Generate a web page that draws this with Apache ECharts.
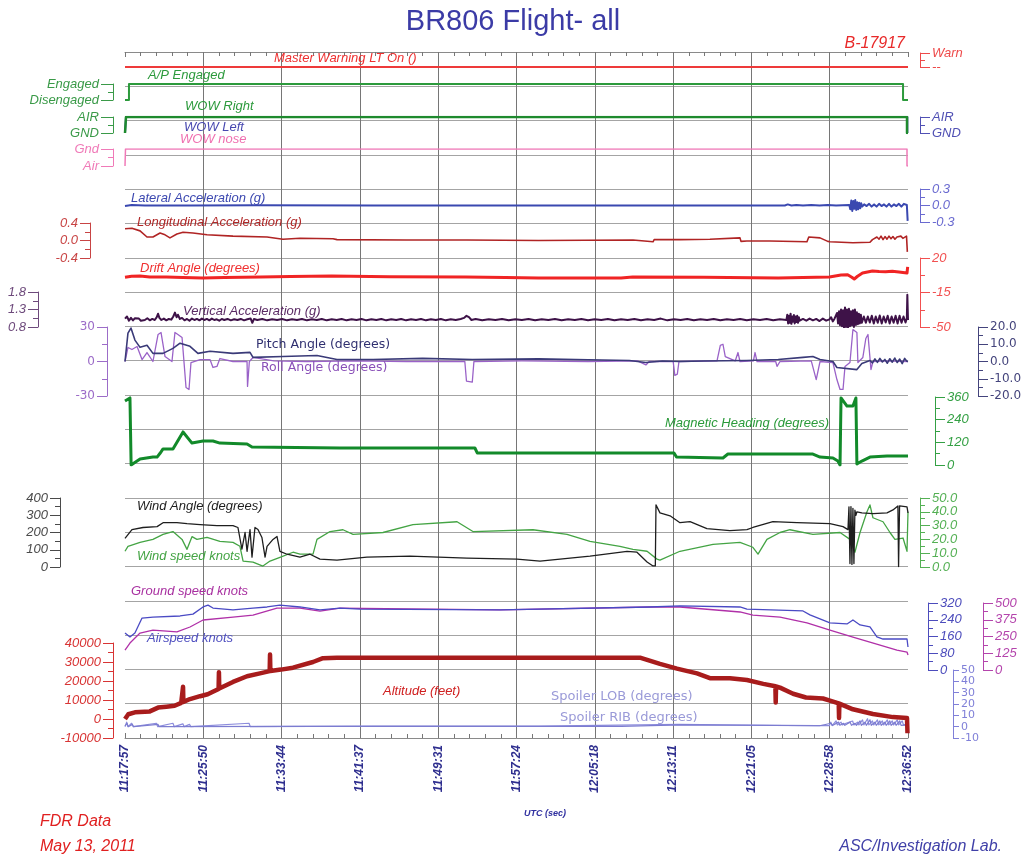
<!DOCTYPE html>
<html>
<head>
<meta charset="utf-8">
<title>BR806 Flight- all</title>
<script src="https://cdn.jsdelivr.net/npm/echarts@6/dist/echarts.min.js"></script>
<style>
html,body{margin:0;padding:0;background:#fff;}
#chart{width:1026px;height:862px;}
</style>
</head>
<body>
<div id="chart"></div>
<script>
// ---- time axis (seconds after 11:17:57 UTC) ----
const T_END = 4735;
const tickLabels = ['11:17:57','11:25:50','11:33:44','11:41:37','11:49:31','11:57:24','12:05:18','12:13:11','12:21:05','12:28:58','12:36:52'];

// ---- discrete parameters ----
const masterWarning = [[0,0],[4735,0]];
const apEngaged = [[0,0],[24,0],[24,1],[4705,1],[4705,0],[4735,0]];
const wowRight = [[0,0],[6,0],[6,1],[4729,1],[4729,0],[4735,0]];
const wowLeft = [[0,0],[6,0],[6,1],[4731,1],[4731,0],[4735,0]];
const wowNose = [[0,0],[3,0],[3,1],[4729,1],[4729,0],[4735,0]];

// ---- accelerations (g) ----
const lateralAccel = [[0,-0.01],[40,0.01],[120,0],[400,0],[800,0.005],[1500,0],[2060,0],[2066,0.025],[2072,0],[2600,0],[3200,0],[3800,0],
[3990,0],[3996,0.03],[4002,-0.02],[4008,0.02],[4014,-0.015],[4020,0.01],[4030,0],[4060,0.01],[4100,0],[4150,0.01],[4200,0],[4250,0.008],[4300,0],
[4380,0.01],[4386,-0.07],[4392,0.09],[4398,-0.1],[4404,0.08],[4410,-0.06],[4416,0.1],[4422,-0.08],[4428,0.06],[4434,-0.07],[4440,0.05],[4446,-0.05],[4452,0.04],[4458,-0.02],
[4470,0.02],[4485,-0.01],[4500,0.03],[4515,-0.02],[4530,0.02],[4545,-0.02],[4560,0.03],[4575,-0.01],[4590,0.02],[4605,-0.02],[4620,0.03],[4635,-0.02],[4650,0.02],[4665,-0.01],[4680,0.03],[4695,-0.02],[4710,0.03],[4722,0.04],[4728,0.01],[4733,-0.28],[4735,-0.28]];

const longAccel = [[0,0.27],[42,0.28],[91,0.22],[133,0.08],[169,0.08],[212,0.17],[242,0.13],[272,0.06],[314,0.15],[351,0.19],[411,0.17],[496,0.13],[653,0.1],[859,0.08],[955,0.03],[1058,0.05],[1258,0.04],[1282,0.02],[1700,0.01],[2068,0.01],[2500,0.0],[3072,0.01],[3080,-0.03],[3193,-0.03],[3200,0.02],[3356,0.02],[3537,0.03],[3545,0.06],[3719,0.06],[3725,-0.02],[3761,-0.01],[3900,-0.01],[3910,-0.03],[4124,-0.03],[4135,0.08],[4203,0.06],[4250,-0.02],[4263,-0.03],[4402,-0.05],[4505,-0.04],[4520,0.02],[4547,0.08],[4560,0.03],[4572,0.1],[4584,0.02],[4596,0.09],[4608,0.03],[4620,0.1],[4632,0.04],[4644,0.09],[4656,0.03],[4668,0.08],[4680,0.04],[4692,0.1],[4704,0.05],[4716,0.09],[4726,0.1],[4731,-0.26],[4735,-0.26]];

const driftAngle = [[0,0.5],[40,1.5],[91,1.7],[150,0.8],[250,0.7],[350,0.2],[470,-0.3],[600,0.3],[820,0.7],[1000,1.2],[1250,1.7],[1600,1.0],[2060,0.7],[2300,0.2],[2500,-0.3],[3000,-0.3],[3070,0.7],[3500,0.5],[3950,-0.3],[4100,0.2],[4260,0.7],[4330,2.7],[4370,3.0],[4395,0.5],[4410,-1.3],[4430,1.5],[4460,4.8],[4520,6.8],[4560,6.3],[4600,6.0],[4640,6.5],[4680,5.8],[4729,4.8],[4733,11],[4735,11]];

const vertAccel = [[0,1.04],[12,1.1],[24,0.98],[36,1.06],[48,0.99],[60,1.05],[72,1.0],[84,1.04],[96,0.98],[108,1.03],[120,1.0],[135,1.05],[150,0.99],[165,1.03],[180,1.0],[192,1.08],[200,1.18],[208,1.06],[220,1.0],[235,1.04],[250,0.99],[265,1.03],[280,1.01],[292,1.1],[302,1.21],[312,1.08],[320,1.15],[332,1.03],[345,1.06],[360,0.99],[375,1.03],[390,0.98],[405,1.04],[420,1.0],[435,1.03],[450,0.99],[465,1.04],[480,1.0],[495,1.03],[510,0.99],[525,1.04],[540,1.0],[555,1.02],[570,0.98],[585,1.03],[600,1.0],[620,1.03],[640,0.99],[660,1.02],[680,1.0],[700,1.03],[720,0.99],[740,1.02],[760,1.04],[770,0.92],[780,1.03],[800,1.0],[830,1.03],[860,0.99],[890,1.02],[920,1.0],[950,1.03],[980,0.99],[1010,1.02],[1040,1.0],[1070,1.03],[1100,0.99],[1130,1.02],[1160,1.0],[1190,1.03],[1220,0.99],[1250,1.02],[1280,1.0],[1310,1.03],[1340,0.99],[1370,1.02],[1400,1.0],[1430,1.03],[1460,0.99],[1490,1.02],[1520,1.0],[1550,1.03],[1580,0.99],[1610,1.02],[1640,1.0],[1670,1.03],[1700,0.99],[1730,1.02],[1760,1.0],[1790,1.03],[1820,0.99],[1850,1.02],[1880,1.0],[1910,1.03],[1940,0.99],[1970,1.02],[2000,1.0],[2030,1.03],[2050,1.06],[2065,1.12],[2080,1.08],[2095,1.0],[2120,1.03],[2160,0.99],[2200,1.02],[2240,1.0],[2280,1.03],[2320,0.99],[2360,1.02],[2400,1.0],[2440,1.03],[2480,0.99],[2520,1.02],[2560,1.0],[2600,1.03],[2640,0.99],[2680,1.02],[2720,1.0],[2760,1.03],[2800,0.99],[2840,1.02],[2880,1.0],[2920,1.03],[2960,0.99],[3000,1.02],[3040,1.0],[3080,1.03],[3120,0.99],[3160,1.02],[3200,1.0],[3240,1.04],[3280,0.99],[3320,1.02],[3360,1.0],[3400,1.03],[3440,0.99],[3480,1.02],[3520,1.0],[3560,1.03],[3600,0.99],[3640,1.02],[3680,1.0],[3720,1.03],[3760,0.99],[3800,1.02],[3840,1.0],[3880,1.03],[3920,0.99],[3960,1.02],
[4000,1.0],[4005,1.15],[4010,0.9],[4015,1.12],[4020,0.92],[4025,1.18],[4030,0.89],[4035,1.1],[4040,0.95],[4045,1.14],[4050,0.9],[4055,1.1],[4060,0.94],[4065,1.12],[4070,0.92],[4075,1.08],[4080,0.98],
[4100,1.03],[4120,0.98],[4140,1.04],[4160,0.99],[4180,1.03],[4200,0.97],[4220,1.04],[4240,0.98],[4260,1.02],[4270,1.08],[4280,0.96],[4290,1.03],
[4300,1.0],[4306,1.2],[4312,0.9],[4318,1.25],[4324,0.85],[4330,1.3],[4336,0.82],[4342,1.28],[4348,0.78],[4354,1.36],[4360,0.8],[4366,1.3],[4372,0.77],[4378,1.32],[4384,0.82],[4390,1.25],[4396,0.85],[4402,1.28],[4408,0.8],[4414,1.3],[4420,0.86],[4426,1.22],[4432,0.88],[4438,1.18],[4444,0.9],[4450,1.15],[4456,0.92],
[4468,1.1],[4480,0.92],[4492,1.1],[4504,0.93],[4516,1.12],[4528,0.9],[4540,1.1],[4552,0.92],[4564,1.13],[4576,0.9],[4588,1.1],[4600,0.93],[4612,1.12],[4624,0.9],[4636,1.1],[4648,0.92],[4660,1.12],[4672,0.9],[4684,1.12],[4696,0.92],[4708,1.1],[4720,0.93],[4728,1.05],[4731,1.72],[4735,1.0]];

// ---- attitude (degrees) ----
const pitchAngle = [[0,0],[18,16.5],[36,19.4],[60,12.4],[91,8.2],[133,9.4],[169,4.7],[230,4.7],[290,7.6],[333,10.6],[393,8.8],[441,4.7],[514,5.9],[653,4.7],[756,5.3],[774,2.4],[955,2.9],[1161,3.5],[1282,1.2],[1500,1.2],[1800,1.8],[2100,1.2],[2500,1.5],[2800,1.0],[3050,0.6],[3150,-0.6],[3250,0.3],[3356,0],[3500,0.3],[3761,0.6],[3950,1.2],[4100,2.4],[4160,2.9],[4203,1.2],[4281,0],[4305,-3.5],[4426,-4.7],[4456,-1.2],[4505,0.6],[4520,-0.8],[4535,1.5],[4550,-0.5],[4565,1.8],[4580,-0.3],[4595,1.2],[4610,-1.0],[4625,1.6],[4640,-0.4],[4655,2.0],[4670,-0.6],[4685,1.4],[4700,-1.2],[4715,1.8],[4728,0.2],[4735,0]];

const rollAngle = [[0,0],[18,12.2],[42,10.4],[73,13],[103,1.7],[133,7.8],[169,0],[200,23.5],[218,25.2],[242,4.3],[284,0],[302,25.2],[320,23.5],[345,20.9],[357,-0.9],[369,-22.6],[387,-24.3],[399,-0.9],[454,1.7],[514,1.7],[532,-5.2],[556,-4.3],[574,2.6],[653,0],[738,0],[741,-21.7],[747,-21],[752,0],[774,3.5],[900,0.5],[1100,0],[1400,0.5],[1700,0],[2055,0],[2065,-17],[2100,-18],[2110,0],[2400,0.5],[2800,0],[3100,0.5],[3150,-3],[3170,0],[3315,0],[3325,-12],[3340,-11],[3350,0],[3580,0.5],[3600,14],[3616,15],[3630,4.3],[3690,0.5],[3707,7.8],[3719,0],[3800,0.5],[3810,7.8],[3822,0],[3935,0],[3943,-4.3],[3961,0],[4150,0.5],[4180,-15.7],[4190,-15],[4203,0],[4281,-0.9],[4305,-15.7],[4324,-24.3],[4342,-24.3],[4354,-4.3],[4384,-0.9],[4402,27.8],[4426,25.2],[4432,-0.9],[4462,3.5],[4480,20],[4493,23.5],[4511,-7],[4523,0],[4600,0.5],[4735,0]];

const magHeading = [[0,339],[30,355],[36,355],[37,0],[48,5],[91,32],[169,42],[194,42],[212,62],[230,85],[290,85],[351,175],[405,116],[472,127],[532,127],[574,116],[738,111],[768,95],[1300,90],[2116,90],[2130,64],[3320,64],[3335,42],[3616,37],[3646,58],[4160,58],[4203,42],[4281,37],[4311,21],[4324,0],[4330,355],[4366,312],[4402,312],[4420,355],[4426,5],[4456,21],[4505,42],[4608,48],[4735,48]];

// ---- wind ----
const windAngle = [[0,166],[42,217],[109,229],[194,234],[230,257],[314,257],[375,251],[454,246],[556,240],[653,240],[683,229],[707,103],[726,200],[738,91],[756,217],[768,57],[786,229],[804,217],[828,171],[847,57],[859,120],[895,160],[919,177],[937,91],[980,74],[1058,57],[1119,74],[1179,46],[1282,40],[1463,57],[1723,63],[2068,51],[2370,46],[2510,34],[2812,63],[3036,91],[3096,86],[3157,29],[3193,6],[3207,6],[3211,360],[3235,314],[3296,297],[3356,257],[3417,263],[3519,223],[3658,211],[3761,217],[3797,229],[3918,263],[4064,257],[4263,251],[4342,234],[4372,217],[4378,349],[4384,20],[4390,350],[4396,15],[4402,340],[4408,20],[4414,330],[4420,300],[4426,320],[4456,314],[4523,309],[4608,314],[4644,331],[4674,354],[4678,3],[4684,354],[4729,349],[4735,314]];

const windSpeed = [[0,11.4],[18,15],[91,17.8],[169,20],[230,23.6],[290,25.7],[345,20],[375,12.8],[405,22],[435,20],[496,21.4],[574,18.6],[653,17.8],[695,15],[714,4.3],[774,3.6],[834,0.7],[877,4.3],[937,7],[1016,10.7],[1058,9.3],[1137,9.3],[1161,20],[1240,25.7],[1318,27],[1379,23.6],[1560,25],[1741,30.7],[2008,32.8],[2104,25.7],[2467,27],[2673,23.6],[2812,18.6],[2993,15],[3072,12.8],[3157,11.4],[3217,5.7],[3235,5],[3356,11.4],[3556,16.4],[3719,17.8],[3797,14.3],[3828,9.3],[3882,20],[3961,25],[4021,27],[4160,23.6],[4324,25],[4384,20],[4414,10.7],[4445,25],[4487,40],[4505,45],[4523,35.7],[4584,32.8],[4626,25],[4656,20],[4705,21],[4729,11.4],[4735,40]];

// ---- speeds (knots) ----
const airspeed = [[0,177],[30,158],[60,177],[103,248],[169,253],[333,258],[411,267],[472,301],[502,310],[532,296],[653,287],[774,296],[859,301],[937,310],[1058,301],[1179,287],[1300,296],[1421,291],[2268,287],[3175,301],[3356,306],[3719,301],[3761,291],[4100,282],[4142,263],[4263,225],[4366,220],[4402,239],[4445,215],[4505,206],[4547,158],[4584,148],[4729,148],[4735,110]];
const groundSpeed = [[0,149],[30,201],[91,276],[169,298],[314,284],[393,321],[472,373],[653,395],[774,410],[919,462],[1058,462],[1179,440],[1300,462],[2268,448],[3175,470],[3356,470],[3719,433],[3797,410],[3961,395],[4124,351],[4263,298],[4402,246],[4566,186],[4668,149],[4729,134],[4735,112]];

// ---- altitude (feet) ----
const altitude = [[0,0],[20,2500],[60,3500],[150,4000],[200,6000],[250,6500],[300,7000],[340,8500],[350,9000],[351,17000],[353,9000],[393,10500],[454,12000],[500,13000],[566,15800],[568,24600],[570,16000],[653,19500],[738,22500],[816,24000],[875,25200],[877,33900],[879,25300],[943,26000],[1016,27000],[1137,30000],[1197,32000],[1282,32300],[3114,32300],[3235,29000],[3338,26500],[3459,24000],[3537,21500],[3658,21500],[3761,20500],[3860,18500],[3933,17200],[3935,8700],[3937,17100],[3961,16500],[4040,13300],[4118,11300],[4221,10800],[4263,9700],[4316,8200],[4318,500],[4320,8100],[4324,7700],[4402,5100],[4523,2600],[4644,1000],[4729,500],[4732,-7500],[4735,-7500]];

// ---- spoilers (degrees) ----
const spoilerLOB = [[0,0],[10,4],[18,0],[40,3],[50,0],[190,3],[198,0],[290,3],[298,0],[350,2.5],[358,0],[390,2],[398,0],[750,3],[758,0],[1500,0.5],[2500,0.5],[3350,2],[3358,0.5],[3620,1.5],[3630,0.5],[4180,1],[4260,1],[4268,4],[4276,1],[4300,5],[4308,1.5],[4330,4],[4338,1.5],[4360,3],[4368,1.5],[4400,5],[4408,1.5],[4430,4],[4438,1.5],[4460,6],[4468,1.5],[4490,7],[4498,1.5],[4520,5],[4528,1.5],[4550,6],[4558,1.5],[4580,5],[4588,1.5],[4610,6],[4618,1.5],[4640,5],[4648,1.5],[4670,6],[4678,1.5],[4700,5],[4708,1.5],[4735,2]];
const spoilerRIB = [[0,0.5],[12,3],[20,0],[45,2],[52,0],[200,2],[206,0],[1000,0.3],[2000,0.3],[3000,0.3],[3360,1.5],[3366,0.3],[4200,0.8],[4270,3],[4278,1],[4315,4],[4323,1.2],[4345,3],[4353,1.2],[4385,4],[4393,1.2],[4415,3],[4423,1.2],[4445,5],[4453,1.2],[4475,4],[4483,1.2],[4505,6],[4513,1.2],[4535,4],[4543,1.2],[4565,5],[4573,1.2],[4595,4],[4603,1.2],[4625,5],[4633,1.2],[4655,4],[4663,1.2],[4685,5],[4693,1.2],[4735,1.5]];

// ---- layout ----
const SANS = '"Liberation Sans", Arial, sans-serif';
const DEJAVU = '"DejaVu Sans", Verdana, sans-serif';
// grid rectangles (top, height) sharing the same horizontal extent
const gridRects = [
  [52, 686],  // 0 background grid
  [53, 14],   // 1 master warning
  [84, 16],   // 2 autopilot
  [117, 16],  // 3 WOW left/right
  [149, 17],  // 4 WOW nose
  [189, 33],  // 5 lateral acc
  [223, 35],  // 6 longitudinal acc
  [258, 69],  // 7 drift
  [292, 35],  // 8 vertical acc
  [327, 69],  // 9 pitch/roll
  [397, 68],  // 10 heading
  [498, 69],  // 11 wind
  [603, 67],  // 12 speeds
  [643, 95],  // 13 altitude
  [670, 68]   // 14 spoilers
];

const grids = gridRects.map(r => ({left:125, right:118, top:r[0], height:r[1], containLabel:false}));

const xAxes = [
  {
    type:'value', gridIndex:0, position:'bottom', min:0, max:T_END, interval:473.5,
    axisLine:{show:true, onZero:false, lineStyle:{color:'#8a8a8a', width:1}},
    axisTick:{show:true, inside:true, length:5, lineStyle:{color:'#777'}},
    minorTick:{show:true, splitNumber:5, length:4, lineStyle:{color:'#777'}},
    splitLine:{show:true, showMinLine:false, showMaxLine:false, lineStyle:{color:'#767676', width:1}},
    axisLabel:{show:true, rotate:90, margin:7, color:'#2f2f8f', fontSize:12, fontStyle:'italic', fontWeight:'bold', fontFamily:SANS,
      showMinLabel:true, showMaxLabel:true,
      formatter: v => tickLabels[Math.round(v / 473.5)] || ''}
  },
  {
    type:'value', gridIndex:0, position:'top', min:0, max:T_END, interval:473.5,
    axisLine:{show:true, onZero:false, lineStyle:{color:'#8a8a8a', width:1}},
    axisTick:{show:true, inside:true, length:5, lineStyle:{color:'#777'}},
    minorTick:{show:true, splitNumber:5, length:4, lineStyle:{color:'#777'}},
    splitLine:{show:false}, axisLabel:{show:false}
  }
];
for (let g = 1; g < gridRects.length; g++) {
  xAxes.push({type:'value', gridIndex:g, min:0, max:T_END, show:false, axisLine:{onZero:false}});
}
const xIdx = g => g + 1; // hidden x axis index for grid g

function yAx(gridIndex, side, offset, color, min, max, interval, fmt, o) {
  o = o || {};
  const tick = o.tick || 10;
  return {
    type:'value', gridIndex, position:side, offset, min, max, interval,
    axisLine:{show:true, onZero:false, lineStyle:{color, width:1}},
    axisTick:{show:true, length:tick, lineStyle:{color, width:1}},
    minorTick:{show:o.minor !== false, splitNumber:2, length:5, lineStyle:{color, width:1}},
    splitLine:{show:false}, minorSplitLine:{show:false},
    axisLabel:{show:true, color:o.labelColor || color, margin:tick + 2, fontSize:o.size || 13,
      showMinLabel:true, showMaxLabel:true, hideOverlap:false,
      fontStyle:o.italic === false ? 'normal' : 'italic', fontFamily:o.font || SANS, formatter:fmt}
  };
}

const yAxes = [
  {type:'value', gridIndex:0, min:0, max:20, interval:1,
   axisLine:{show:false, onZero:false}, axisTick:{show:false}, axisLabel:{show:false},
   splitLine:{show:true, lineStyle:{color:'#a4a4a4', width:1}}},
  // 1 master warning (right)
  yAx(1, 'right', 12, '#ee4a4a', 0, 1, 1, v => v === 1 ? 'Warn' : '--', {tick:10}),
  // 2 autopilot (left)
  yAx(2, 'left', 12, '#3a9a48', 0, 1, 1, v => v === 1 ? 'Engaged' : 'Disengaged', {tick:12}),
  // 3 WOW right (left, green)
  yAx(3, 'left', 12, '#3a9a48', 0, 1, 1, v => v === 1 ? 'AIR' : 'GND', {tick:12}),
  // 4 WOW left (right, blue)
  yAx(3, 'right', 12, '#5050b4', 0, 1, 1, v => v === 1 ? 'AIR' : 'GND', {tick:10}),
  // 5 WOW nose (left, pink)
  yAx(4, 'left', 12, '#f07ab8', 0, 1, 1, v => v === 1 ? 'Gnd' : 'Air', {tick:12}),
  // 6 lateral acc (right)
  yAx(5, 'right', 12, '#6a6ad0', -0.3, 0.3, 0.3, v => v.toFixed(1)),
  // 7 longitudinal acc (left)
  yAx(6, 'left', 35, '#c84444', -0.4, 0.4, 0.4, v => v.toFixed(1)),
  // 8 drift (right)
  yAx(7, 'right', 12, '#f25050', -50, 20, 35, v => String(Math.round(v))),
  // 9 vertical acc (left)
  yAx(8, 'left', 87, '#6e4a7c', 0.8, 1.8, 0.5, v => v.toFixed(1)),
  // 10 roll (left)
  yAx(9, 'left', 18, '#9c6cc8', -30, 30, 30, v => String(v), {italic:false, font:DEJAVU, size:12}),
  // 11 pitch (right)
  yAx(9, 'right', 70, '#44447c', -20, 20, 10, v => v.toFixed(1), {italic:false, font:DEJAVU, size:12}),
  // 12 heading (right)
  yAx(10, 'right', 27, '#34a044', 0, 360, 120, v => String(v)),
  // 13 wind angle (left)
  yAx(11, 'left', 65, '#4a4a4a', 0, 400, 100, v => String(v)),
  // 14 wind speed (right)
  yAx(11, 'right', 12, '#54b054', 0, 50, 10, v => v.toFixed(1)),
  // 15 airspeed (right)
  yAx(12, 'right', 20, '#4c4cbc', 0, 320, 80, v => String(v)),
  // 16 ground speed (right)
  yAx(12, 'right', 75, '#b444ac', 0, 500, 125, v => String(v)),
  // 17 altitude (left)
  yAx(13, 'left', 12, '#d83434', -10000, 40000, 10000, v => String(v)),
  // 18 spoilers (right)
  yAx(14, 'right', 45, '#8080d8', -10, 50, 10, v => String(v), {italic:false, font:DEJAVU, size:11, minor:false, tick:6})
];

function line(name, data, g, yi, color, width, z) {
  return {
    name, type:'line', data, xAxisIndex:xIdx(g), yAxisIndex:yi,
    showSymbol:false, symbol:'none', animation:false, silent:true, z:z || 3,
    lineStyle:{color, width, join:'round'}
  };
}

const series = [
  line('Master Warning LT On', masterWarning, 1, 1, '#ee3a3a', 2),
  line('A/P Engaged', apEngaged, 2, 2, '#2c9a3c', 2),
  line('WOW Left', wowLeft, 3, 4, '#4a4ab0', 2, 2),
  line('WOW Right', wowRight, 3, 3, '#1e8a2e', 2.5, 3),
  line('WOW nose', wowNose, 4, 5, '#f07ab8', 1.5),
  line('Lateral Acceleration', lateralAccel, 5, 6, '#3a48b0', 2),
  line('Longitudinal Acceleration', longAccel, 6, 7, '#b02424', 1.6),
  line('Drift Angle', driftAngle, 7, 8, '#f02424', 3),
  line('Vertical Acceleration', vertAccel, 8, 9, '#3e1248', 2),
  line('Roll Angle', rollAngle, 9, 10, '#9a62c8', 1.3),
  line('Pitch Angle', pitchAngle, 9, 11, '#3a3a78', 1.6),
  line('Magnetic Heading', magHeading, 10, 12, '#128a2a', 3),
  line('Wind speed', windSpeed, 11, 14, '#44a444', 1.3),
  line('Wind Angle', windAngle, 11, 13, '#1e1e1e', 1.3),
  line('Ground speed', groundSpeed, 12, 16, '#b030a8', 1.3),
  line('Airspeed', airspeed, 12, 15, '#4a4ac4', 1.3),
  line('Spoiler LOB', spoilerLOB, 14, 18, '#8c8cdc', 1.2),
  line('Spoiler RIB', spoilerRIB, 14, 18, '#7c7cd0', 1.2),
  line('Altitude', altitude, 13, 17, '#a81c1c', 4.5, 4)
];

function txt(text, x, y, color, font, align) {
  return {type:'text', x, y, z:20, silent:true,
    style:{text, fill:color, font, align:align || 'left', verticalAlign:'middle'}};
}
const IT13 = 'italic 13px ' + SANS;
const DV12 = '12.5px ' + DEJAVU;
const DV13 = '13px ' + DEJAVU;

const graphics = [
  txt('B-17917', 905, 44, '#e82a2a', 'italic 16px ' + SANS, 'right'),
  txt('Master Warning LT On ()', 274, 58, '#ee3030', IT13),
  txt('A/P Engaged', 148, 75, '#2c9a3c', IT13),
  txt('WOW Right', 185, 106, '#2c9a3c', IT13),
  txt('WOW Left', 184, 127, '#4848b0', IT13),
  txt('WOW nose', 180, 139, '#f070b0', IT13),
  txt('Lateral Acceleration (g)', 131, 198, '#3c48b0', IT13),
  txt('Longitudinal Acceleration (g)', 137, 222, '#b02828', IT13),
  txt('Drift Angle (degrees)', 140, 268, '#f03030', IT13),
  txt('Vertical Acceleration (g)', 183, 311, '#5a2a64', IT13),
  txt('Pitch Angle (degrees)', 256, 345, '#303070', DV12),
  txt('Roll Angle (degrees)', 261, 368, '#8a50b8', DV12),
  txt('Magnetic Heading (degrees)', 665, 423, '#2a9a3a', IT13),
  txt('Wind Angle (degrees)', 137, 506, '#1e1e1e', IT13),
  txt('Wind speed knots', 137, 556, '#44a444', IT13),
  txt('Ground speed knots', 131, 591, '#a830a0', IT13),
  txt('Airspeed knots', 147, 638, '#5050c0', IT13),
  txt('Altitude (feet)', 383, 691, '#d02020', IT13),
  txt('Spoiler LOB (degrees)', 551, 697, '#9a9ad8', DV13),
  txt('Spoiler RIB (degrees)', 560, 718, '#9a9ad8', DV13),
  txt('UTC (sec)', 545, 814, '#3030a0', 'italic bold 9px ' + SANS, 'center'),
  txt('FDR Data', 40, 822, '#e02020', 'italic 16px ' + SANS),
  txt('May 13, 2011', 40, 847, '#e02020', 'italic 16px ' + SANS),
  txt('ASC/Investigation Lab.', 1002, 847, '#4040a8', 'italic 16px ' + SANS, 'right')
];

const chart = echarts.init(document.getElementById('chart'), null, {renderer:'canvas'});
chart.setOption({
  animation:false,
  backgroundColor:'#ffffff',
  title:{text:'BR806 Flight- all', left:'center', top:2,
    textStyle:{fontSize:29, fontWeight:'normal', color:'#3b3ba6', fontFamily:SANS}},
  grid:grids,
  xAxis:xAxes,
  yAxis:yAxes,
  series:series,
  graphic:graphics
});
</script>
</body>
</html>
